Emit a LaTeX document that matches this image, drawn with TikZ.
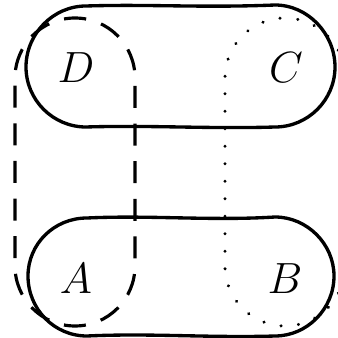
\documentclass[tikz,border=0pt]{standalone}
\usepackage{amsmath}
\usetikzlibrary{positioning}

\begin{document}
\begin{tikzpicture}[
    x=0.02cm, y=0.02cm,
    blob/.style={draw=black, line width=1.9pt, line join=round},
    dashloop/.style={draw=black, line width=1.8pt,
      dash pattern=on 12.52pt off 8.90pt, dash phase=6.26pt},
    dotloop/.style={draw=black, line width=1.9pt, line cap=round,
      dash pattern=on 0.01pt off 9.95pt, dash phase=7.11pt},
    lbl/.style={inner sep=0pt, font=\fontsize{25.8}{30}\selectfont},
  ]
  \useasboundingbox (0,0) rectangle (338,338);
  \clip (0,0) rectangle (338,338);

  \draw[dashloop] (75,320) arc[start angle=90, end angle=180, radius=1.2cm]
    -- (15,72) arc[start angle=180, end angle=360, radius=1.2cm]
    -- (135,260) arc[start angle=0, end angle=90, radius=1.2cm] -- cycle;
  \draw[dotloop] (285,320) arc[start angle=90, end angle=180, radius=1.2cm]
    -- (225,72) arc[start angle=180, end angle=360, radius=1.2cm]
    -- (345,260) arc[start angle=0, end angle=90, radius=1.2cm] -- cycle;

  \draw[blob] (86,332) .. controls (150,334) and (200,330) .. (275,333)
    .. controls (308,333) and (335,304) .. (335,271)
    .. controls (335,238) and (308,211) .. (275,211)
    .. controls (210,209) and (150,213) .. (86,211)
    .. controls (53,211) and (26,238) .. (26,271)
    .. controls (26,304) and (53,332) .. (86,332) -- cycle;
  \draw[blob] (87,120) .. controls (150,123) and (210,117) .. (275,121)
    .. controls (307,121) and (334,94) .. (334,62)
    .. controls (334,29) and (307,2) .. (275,2)
    .. controls (210,0) and (150,5) .. (87,2)
    .. controls (54,2) and (28,29) .. (28,62)
    .. controls (28,94) and (54,120) .. (87,120) -- cycle;

  \node[lbl] (d) at (76,270) {$D$};
  \node[lbl] (c) at (286,270) {$C$};
  \node[lbl] (a) at (76,59)  {$A$};
  \node[lbl] (b) at (285,59) {$B$};
\end{tikzpicture}
\end{document}
